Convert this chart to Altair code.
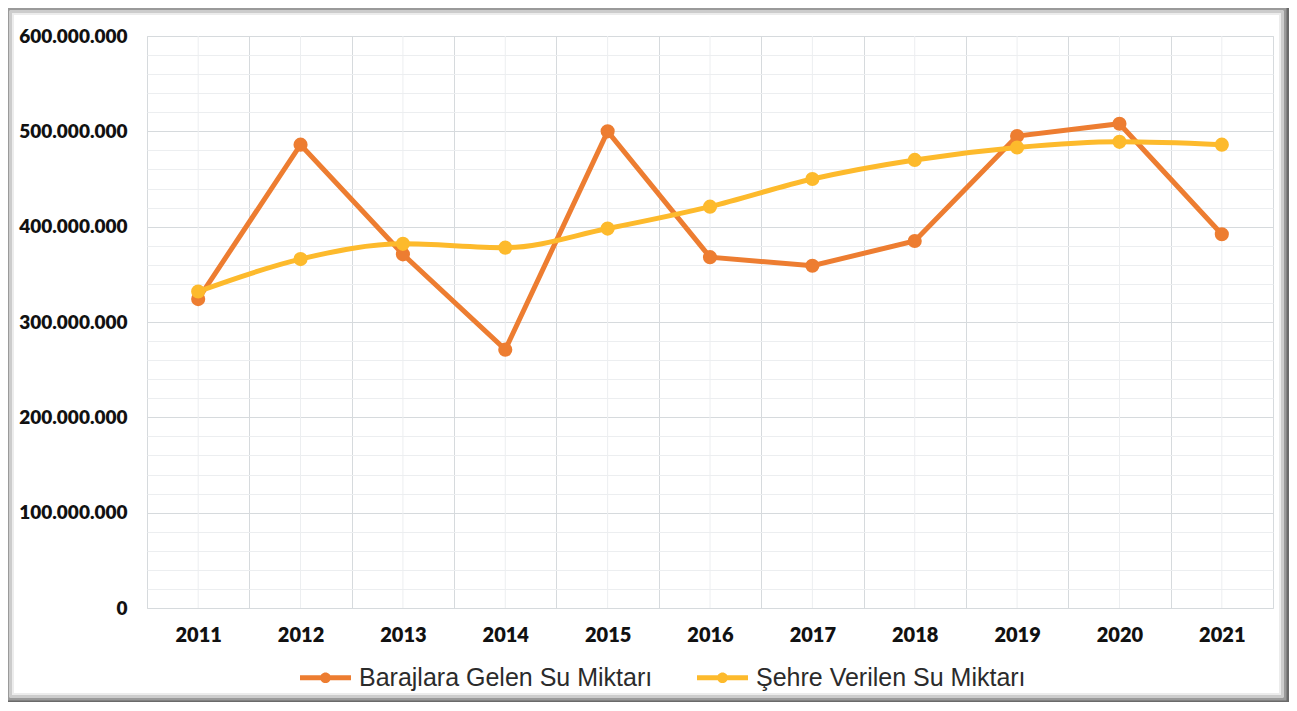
import altair as alt
import pandas as pd

years = [str(y) for y in range(2011, 2022)]
barajlara = [324e6, 486e6, 371e6, 271e6, 500e6, 368e6, 359e6, 385e6, 495e6, 508e6, 392e6]
sehre = [332e6, 366e6, 382e6, 378e6, 398e6, 421e6, 450e6, 470e6, 483e6, 489e6, 486e6]
series_names = ["Barajlara Gelen Su Miktarı", "Şehre Verilen Su Miktarı"]
colors = ["#ED7D31", "#FDBA2C"]
y_ticks = list(range(0, 600_000_001, 20_000_000))

df = pd.DataFrame({
    "Yıl": years * 2,
    "Değer": barajlara + sehre,
    "Seri": [series_names[0]] * len(years) + [series_names[1]] * len(years),
})
df_years = pd.DataFrame({"Yıl": years})
df_one = pd.DataFrame({"k": [0]})

W, H = 1126, 572

xscale = alt.Scale(type="band", domain=years, paddingInner=0, paddingOuter=0)
yscale = alt.Scale(domain=[0, 600_000_000], nice=False)
cscale = alt.Scale(domain=series_names, range=colors)

x_axis = alt.Axis(tickBand="extent", grid=True, gridColor="#d6dadd", gridWidth=1,
                  ticks=False, domain=False, labelAngle=0, labelPadding=17,
                  labelFont="Lato", labelFontSize=20, labelFontWeight=800,
                  labelColor="#111111")
x_enc = alt.X("Yıl:N", scale=xscale, sort=years, title=None, axis=x_axis)
y_enc = alt.Y("Değer:Q", scale=yscale, title=None,
              axis=alt.Axis(values=y_ticks, format=",.0f",
                            labelExpr="datum.value % 100000000 === 0 ? datum.label : ''",
                            grid=True,
                            gridColor={"condition": {"test": "datum.value % 100000000 === 0", "value": "#d6dadd"},
                                       "value": "#eceef0"},
                            ticks=False, domain=False, labelPadding=20,
                            labelFont="Lato", labelFontSize=19, labelFontWeight=800,
                            labelColor="#111111"))

# decorative frame around whole chart (pixel values relative to plot area)
frames = []
for inset, col, sw in [(0, "#6a6a6a", 4), (3, "#9a9a9a", 3), (6, "#cccccc", 2), (8, "#ececec", 2)]:
    frames.append(
        alt.Chart(df_one).mark_rect(fill=None, stroke=col, strokeWidth=sw, clip=False).encode(
            x=alt.value(-142 + inset), x2=alt.value(1141 - inset),
            y=alt.value(-30 + inset), y2=alt.value(666 - inset))
    )

minor_v = alt.Chart(df_years).mark_rule(color="#eceef0", strokeWidth=1).encode(x=x_enc)

orange = df[df["Seri"] == series_names[0]]
yellow = df[df["Seri"] == series_names[1]]

line_o = alt.Chart(orange).mark_line(strokeWidth=5, color=colors[0]).encode(x=x_enc, y=y_enc)
line_y = alt.Chart(yellow).mark_line(strokeWidth=5, color=colors[1], interpolate="monotone").encode(x=x_enc, y=y_enc)

legend_path = ("M-1,-0.1 L-0.15,-0.1 L-0.15,0.1 L-1,0.1 Z "
               "M0.15,-0.1 L1,-0.1 L1,0.1 L0.15,0.1 Z "
               "M0.21,0 A0.21,0.21 0 1,1 -0.21,0 A0.21,0.21 0 1,1 0.21,0 Z")

color_enc = alt.Color("Seri:N", scale=cscale, sort=series_names,
                      legend=alt.Legend(title=None, orient="none", direction="horizontal",
                                        legendX=153, legendY=616, symbolType=legend_path,
                                        symbolSize=2600, symbolStrokeWidth=0, symbolOpacity=1,
                                        labelFont="Liberation Sans", labelFontSize=25,
                                        labelColor="#2b2b2b", labelOffset=8, columnPadding=44,
                                        padding=0, labelLimit=400))

pts_o = alt.Chart(orange).mark_point(filled=True, size=200, opacity=1).encode(x=x_enc, y=y_enc, color=color_enc)
pts_y = alt.Chart(yellow).mark_point(filled=True, size=200, opacity=1).encode(x=x_enc, y=y_enc, color=color_enc)

chart = alt.layer(*frames, minor_v, line_o, pts_o, line_y, pts_y).properties(
    width=W, height=H,
    autosize=alt.AutoSizeParams(type="none"),
    padding={"left": 139, "top": 28, "right": 16, "bottom": 94},
    background="#ffffff",
).configure_view(stroke="#d6dadd", strokeWidth=1).configure(
    locale={"number": {"decimal": ",", "thousands": ".", "grouping": [3], "currency": ["", ""]}}
)

chart.save("out.html", embed_options={"renderer": "svg", "actions": False})
